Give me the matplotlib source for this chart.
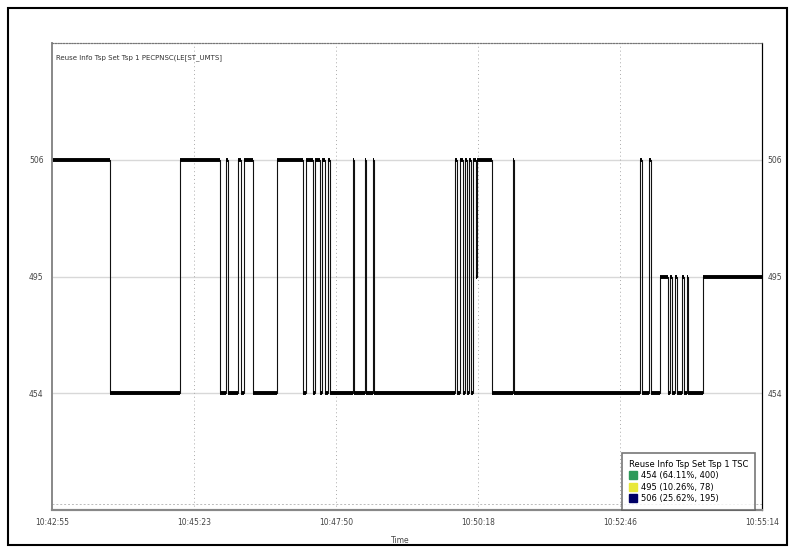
#!/usr/bin/env python3
# step chart of reuse info tsp over time
import matplotlib
matplotlib.use('Agg')
import matplotlib.pyplot as plt
from matplotlib.patches import Rectangle

# data: change times (seconds from start) and the level reached at each time
t_change = [0.0, 60.5, 133.4, 175.1, 181.4, 183.4, 193.9, 197.0, 200.1, 209.5,
            234.5, 261.6, 264.7, 272.0, 274.1, 279.3, 281.4, 284.5, 287.7, 289.8,
            313.7, 314.8, 326.2, 327.3, 334.6, 335.6, 420.0, 422.1, 425.3, 428.4,
            430.5, 432.6, 434.6, 436.7, 438.8, 441.9, 443.0, 458.6, 480.5, 481.5,
            612.9, 615.0, 622.3, 624.3, 633.7, 642.0, 644.1, 646.2, 649.4, 651.4,
            656.6, 658.7, 661.8, 662.9, 678.5]
level = [506, 454, 506, 454, 506, 454, 506, 454, 506, 454,
         506, 454, 506, 454, 506, 454, 506, 454, 506, 454,
         506, 454, 506, 454, 506, 454, 506, 454, 506, 454,
         506, 454, 506, 454, 506, 495, 506, 454, 506, 454,
         506, 454, 506, 454, 495, 454, 495, 454, 495, 454,
         495, 454, 495, 454, 495]
t_end = 740.0

categories = [454, 495, 506]
legend_labels = ['454 (64.11%, 400)', '495 (10.26%, 78)', '506 (25.62%, 195)']
legend_colors = ['#2e9a5a', '#e8e83a', '#000066']

x_tick_labels = ['10:42:55', '10:45:23', '10:47:50', '10:50:18', '10:52:46', '10:55:14']

title = 'Reuse Info Tsp Set Tsp 1 PECPNSC(LE[ST_UMTS]'
legend_title = 'Reuse Info Tsp Set Tsp 1 TSC'

# map level values onto evenly spaced rows
idx = [categories.index(v) for v in level]
xs = t_change + [t_end]
ys = idx + [idx[-1]]

fig = plt.figure(figsize=(7.95, 5.53), dpi=100)
fig.patches.append(Rectangle((8 / 795, 8 / 553), 779 / 795, 537 / 553,
                             transform=fig.transFigure, fill=False,
                             edgecolor='black', linewidth=1.5))

ax = fig.add_axes([52 / 795, 1 - 510 / 553, 710 / 795, 467 / 553])

# horizontal gridlines at each level, dotted vertical grid at ticks
for i in range(len(categories)):
    ax.axhline(i, color='#d8d8d8', linewidth=1.0, zorder=0)
x_ticks = [k * t_end / (len(x_tick_labels) - 1) for k in range(len(x_tick_labels))]
for xt in x_ticks[1:-1]:
    ax.axvline(xt, color='#aaaaaa', linewidth=0.7, linestyle=(0, (1, 3)), zorder=0)
ax.axhline(-0.95, color='#bbbbbb', linewidth=0.7, linestyle=(0, (2, 2)), zorder=0)

# thin verticals + thick horizontal runs
ax.step(xs, ys, where='post', color='#111111', linewidth=0.8)
for k in range(len(t_change)):
    ax.hlines(ys[k], xs[k], xs[k + 1], color='black', linewidth=2.8)

ax.set_xlim(0, t_end)
ax.set_ylim(-1, 3)
ax.set_xticks(x_ticks)
ax.set_xticklabels(x_tick_labels, fontsize=5.5, color='#444444')
ax.set_yticks(range(len(categories)))
ax.set_yticklabels([str(c) for c in categories], fontsize=5.5, color='#444444')
ax.tick_params(length=0, pad=6)
ax.set_xlabel('Time', fontsize=5.5, color='#444444', labelpad=4)
ax.xaxis.set_label_coords(0.49, -0.055)

# right side labels
ax2 = ax.twinx()
ax2.set_ylim(-1, 3)
ax2.set_yticks(range(len(categories)))
ax2.set_yticklabels([str(c) for c in categories], fontsize=5.5, color='#444444')
ax2.tick_params(length=0, pad=4)

for a in (ax, ax2):
    a.spines['top'].set_linestyle((0, (1, 1.5)))
    a.spines['top'].set_color('#777777')
    a.spines['left'].set_color('#888888')
    a.spines['left'].set_linewidth(1.2)
    a.spines['bottom'].set_color('#888888')
    a.spines['bottom'].set_linewidth(1.5)
    a.spines['right'].set_linestyle((0, (1, 1)))
    a.spines['right'].set_color('black')

ax.text(0.006, 0.975, title, transform=ax.transAxes, fontsize=5, color='#333333',
        va='top', ha='left')

handles = [plt.Line2D([], [], marker='s', linestyle='none', markersize=6,
                      markerfacecolor=c, markeredgecolor=c) for c in legend_colors]
leg = ax2.legend(handles, legend_labels, title=legend_title, loc='lower right',
                 bbox_to_anchor=(0.99, 0.0), borderaxespad=0.0,
                 fontsize=6, title_fontsize=6,
                 frameon=True, fancybox=False, edgecolor='#555555',
                 handletextpad=0.4, borderpad=0.8, labelspacing=0.3,
                 handlelength=1.0)
leg.get_frame().set_linewidth(1.2)
leg._legend_box.align = 'left'

plt.savefig('out.png', dpi=100)
